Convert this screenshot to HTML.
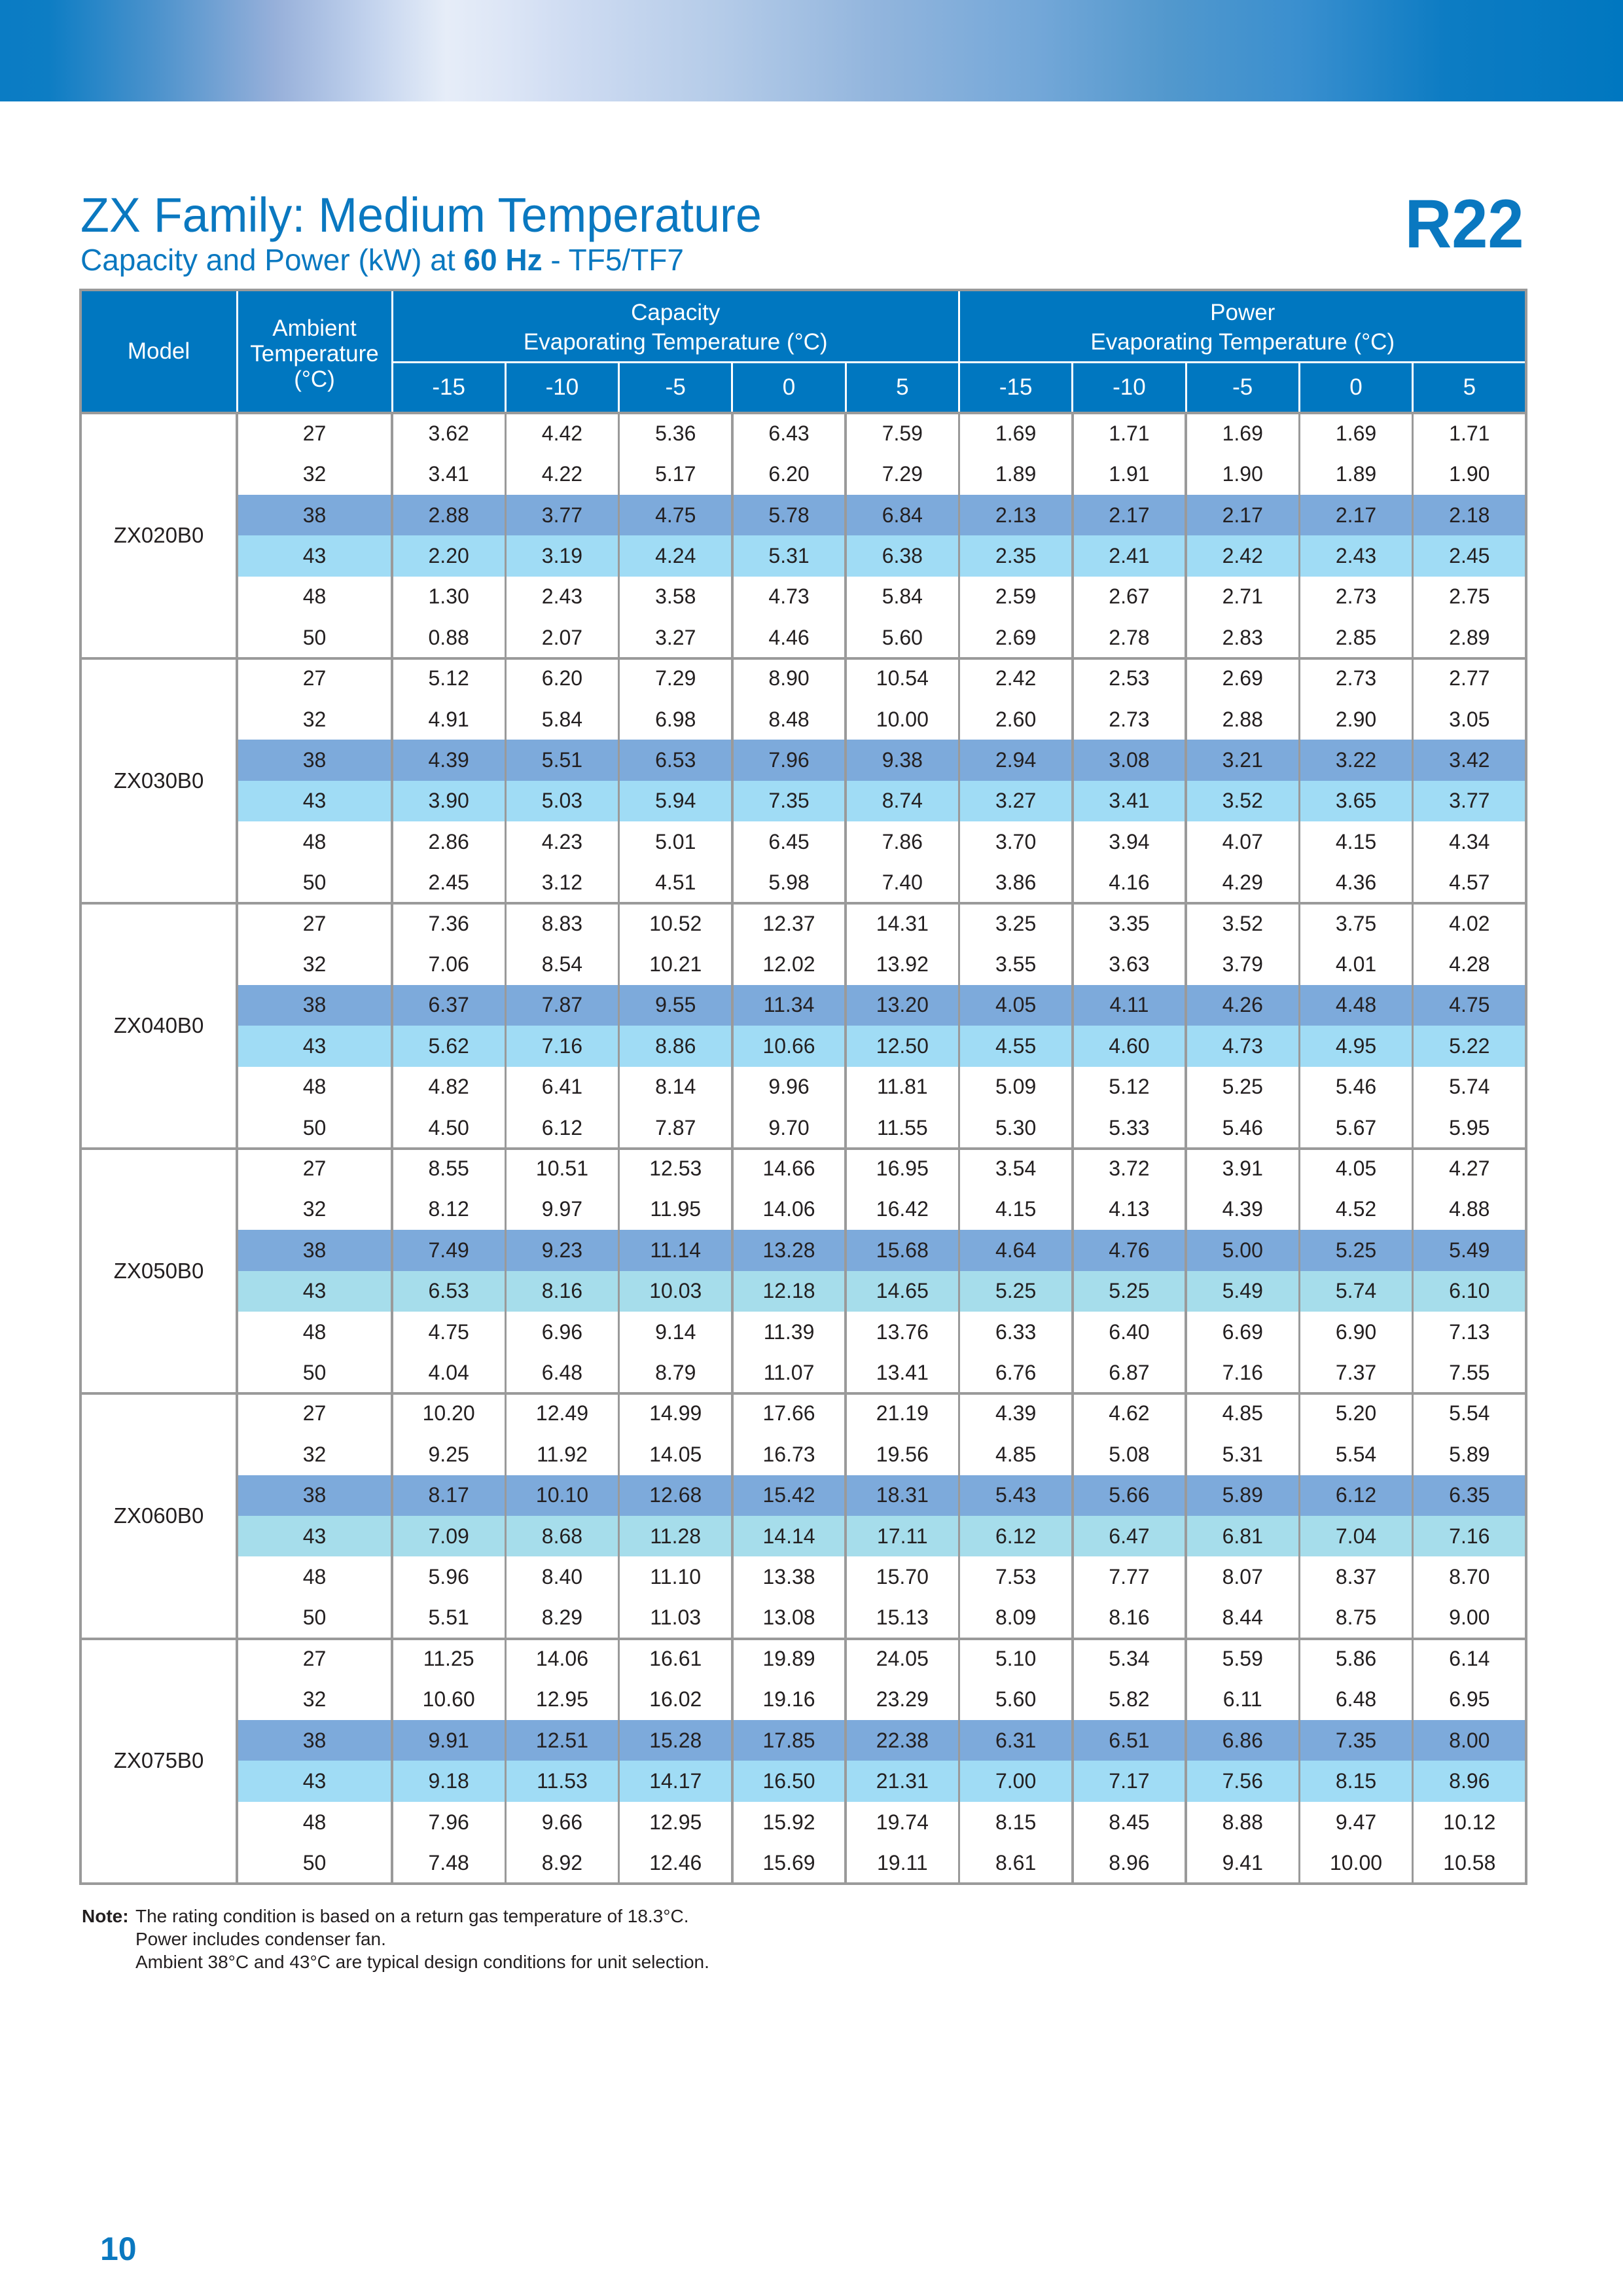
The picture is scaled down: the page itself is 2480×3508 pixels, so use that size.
<!DOCTYPE html>
<html><head><meta charset="utf-8">
<style>
*{margin:0;padding:0;box-sizing:border-box}
html,body{width:2480px;height:3508px;background:#fff;overflow:hidden}
body{position:relative;font-family:"Liberation Sans",sans-serif;color:#231f20}
.banner{position:absolute;left:0;top:0;width:2480px;height:155px;
background:linear-gradient(90deg,#0a7cc4 0%,#0d7dc4 3%,#4b92cc 9.5%,#97b0da 17%,#c4d4ee 23%,#e6edf8 27.5%,#dde6f6 31%,#cfdcf2 35%,#b4cbe8 44.5%,#92b5dd 54%,#73a7d8 64%,#5298cd 72%,#3a8fcf 80%,#0d7cc3 89%,#0077c0 100%)}
.title{position:absolute;left:123px;top:292px;font-size:74px;line-height:74px;color:#0a78c0;white-space:nowrap;transform:scaleX(0.971);transform-origin:0 0}
.sub{position:absolute;left:123px;top:374px;font-size:46px;line-height:46px;color:#0a78c0;white-space:nowrap}
.sub b{font-weight:bold}
.r22{position:absolute;right:151px;top:290px;font-size:105px;line-height:105px;font-weight:bold;color:#0a78c0;white-space:nowrap;transform:scaleX(0.945);transform-origin:100% 0}
.g{position:absolute;left:123px;top:443px;width:2209px;display:grid;
grid-template-columns:239px 237px repeat(10,173.3px);
grid-template-rows:110px 78px repeat(36,62.42px)}
.g>div,.g>.r>div{display:flex;align-items:center;justify-content:center;text-align:center;white-space:nowrap}
.g>.r{display:contents}
.hd{background:#0077c0;color:#fff;font-size:35px}
.hm{grid-row:span 2}
.hc{grid-column:span 5;flex-direction:column;line-height:45px;padding-top:4px}
.ha{grid-row:span 2;flex-direction:column;line-height:39px;padding-top:6px}
.m{grid-row:span 6;font-size:33px;background:#fff}
.r>div{font-size:32px}
.r.x>div{background:#7daadb}
.r.y>div{background:#a0dcf5}
.r.z>div{background:#a6ddeb}
.ln{position:absolute}
.gv{background:#9a9a9a;width:3.5px}
.wv{background:#fff;width:3px}
.gh{background:#9a9a9a;height:4px}
.note{position:absolute;top:2910px;font-size:28px;line-height:35px;color:#231f20;white-space:nowrap}
.pg{position:absolute;left:153px;top:3411px;font-size:50px;line-height:50px;font-weight:bold;color:#0a78c0}
</style></head><body>
<div class="banner"></div>
<div class="title">ZX Family: Medium Temperature</div>
<div class="sub">Capacity and Power (kW) at <b>60 Hz</b> - TF5/TF7</div>
<div class="r22">R22</div>

<div class="g">
<div class="hd hm">Model</div>
<div class="hd ha"><span>Ambient</span><span>Temperature</span><span>(°C)</span></div>
<div class="hd hc"><span>Capacity</span><span>Evaporating Temperature (°C)</span></div>
<div class="hd hc"><span>Power</span><span>Evaporating Temperature (°C)</span></div>
<div class="hd">-15</div><div class="hd">-10</div><div class="hd">-5</div><div class="hd">0</div><div class="hd">5</div>
<div class="hd">-15</div><div class="hd">-10</div><div class="hd">-5</div><div class="hd">0</div><div class="hd">5</div>

<div class="m">ZX020B0</div>
<div class="r"><div>27</div><div>3.62</div><div>4.42</div><div>5.36</div><div>6.43</div><div>7.59</div><div>1.69</div><div>1.71</div><div>1.69</div><div>1.69</div><div>1.71</div></div>
<div class="r"><div>32</div><div>3.41</div><div>4.22</div><div>5.17</div><div>6.20</div><div>7.29</div><div>1.89</div><div>1.91</div><div>1.90</div><div>1.89</div><div>1.90</div></div>
<div class="r x"><div>38</div><div>2.88</div><div>3.77</div><div>4.75</div><div>5.78</div><div>6.84</div><div>2.13</div><div>2.17</div><div>2.17</div><div>2.17</div><div>2.18</div></div>
<div class="r y"><div>43</div><div>2.20</div><div>3.19</div><div>4.24</div><div>5.31</div><div>6.38</div><div>2.35</div><div>2.41</div><div>2.42</div><div>2.43</div><div>2.45</div></div>
<div class="r"><div>48</div><div>1.30</div><div>2.43</div><div>3.58</div><div>4.73</div><div>5.84</div><div>2.59</div><div>2.67</div><div>2.71</div><div>2.73</div><div>2.75</div></div>
<div class="r"><div>50</div><div>0.88</div><div>2.07</div><div>3.27</div><div>4.46</div><div>5.60</div><div>2.69</div><div>2.78</div><div>2.83</div><div>2.85</div><div>2.89</div></div>

<div class="m">ZX030B0</div>
<div class="r"><div>27</div><div>5.12</div><div>6.20</div><div>7.29</div><div>8.90</div><div>10.54</div><div>2.42</div><div>2.53</div><div>2.69</div><div>2.73</div><div>2.77</div></div>
<div class="r"><div>32</div><div>4.91</div><div>5.84</div><div>6.98</div><div>8.48</div><div>10.00</div><div>2.60</div><div>2.73</div><div>2.88</div><div>2.90</div><div>3.05</div></div>
<div class="r x"><div>38</div><div>4.39</div><div>5.51</div><div>6.53</div><div>7.96</div><div>9.38</div><div>2.94</div><div>3.08</div><div>3.21</div><div>3.22</div><div>3.42</div></div>
<div class="r y"><div>43</div><div>3.90</div><div>5.03</div><div>5.94</div><div>7.35</div><div>8.74</div><div>3.27</div><div>3.41</div><div>3.52</div><div>3.65</div><div>3.77</div></div>
<div class="r"><div>48</div><div>2.86</div><div>4.23</div><div>5.01</div><div>6.45</div><div>7.86</div><div>3.70</div><div>3.94</div><div>4.07</div><div>4.15</div><div>4.34</div></div>
<div class="r"><div>50</div><div>2.45</div><div>3.12</div><div>4.51</div><div>5.98</div><div>7.40</div><div>3.86</div><div>4.16</div><div>4.29</div><div>4.36</div><div>4.57</div></div>

<div class="m">ZX040B0</div>
<div class="r"><div>27</div><div>7.36</div><div>8.83</div><div>10.52</div><div>12.37</div><div>14.31</div><div>3.25</div><div>3.35</div><div>3.52</div><div>3.75</div><div>4.02</div></div>
<div class="r"><div>32</div><div>7.06</div><div>8.54</div><div>10.21</div><div>12.02</div><div>13.92</div><div>3.55</div><div>3.63</div><div>3.79</div><div>4.01</div><div>4.28</div></div>
<div class="r x"><div>38</div><div>6.37</div><div>7.87</div><div>9.55</div><div>11.34</div><div>13.20</div><div>4.05</div><div>4.11</div><div>4.26</div><div>4.48</div><div>4.75</div></div>
<div class="r y"><div>43</div><div>5.62</div><div>7.16</div><div>8.86</div><div>10.66</div><div>12.50</div><div>4.55</div><div>4.60</div><div>4.73</div><div>4.95</div><div>5.22</div></div>
<div class="r"><div>48</div><div>4.82</div><div>6.41</div><div>8.14</div><div>9.96</div><div>11.81</div><div>5.09</div><div>5.12</div><div>5.25</div><div>5.46</div><div>5.74</div></div>
<div class="r"><div>50</div><div>4.50</div><div>6.12</div><div>7.87</div><div>9.70</div><div>11.55</div><div>5.30</div><div>5.33</div><div>5.46</div><div>5.67</div><div>5.95</div></div>

<div class="m">ZX050B0</div>
<div class="r"><div>27</div><div>8.55</div><div>10.51</div><div>12.53</div><div>14.66</div><div>16.95</div><div>3.54</div><div>3.72</div><div>3.91</div><div>4.05</div><div>4.27</div></div>
<div class="r"><div>32</div><div>8.12</div><div>9.97</div><div>11.95</div><div>14.06</div><div>16.42</div><div>4.15</div><div>4.13</div><div>4.39</div><div>4.52</div><div>4.88</div></div>
<div class="r x"><div>38</div><div>7.49</div><div>9.23</div><div>11.14</div><div>13.28</div><div>15.68</div><div>4.64</div><div>4.76</div><div>5.00</div><div>5.25</div><div>5.49</div></div>
<div class="r z"><div>43</div><div>6.53</div><div>8.16</div><div>10.03</div><div>12.18</div><div>14.65</div><div>5.25</div><div>5.25</div><div>5.49</div><div>5.74</div><div>6.10</div></div>
<div class="r"><div>48</div><div>4.75</div><div>6.96</div><div>9.14</div><div>11.39</div><div>13.76</div><div>6.33</div><div>6.40</div><div>6.69</div><div>6.90</div><div>7.13</div></div>
<div class="r"><div>50</div><div>4.04</div><div>6.48</div><div>8.79</div><div>11.07</div><div>13.41</div><div>6.76</div><div>6.87</div><div>7.16</div><div>7.37</div><div>7.55</div></div>

<div class="m">ZX060B0</div>
<div class="r"><div>27</div><div>10.20</div><div>12.49</div><div>14.99</div><div>17.66</div><div>21.19</div><div>4.39</div><div>4.62</div><div>4.85</div><div>5.20</div><div>5.54</div></div>
<div class="r"><div>32</div><div>9.25</div><div>11.92</div><div>14.05</div><div>16.73</div><div>19.56</div><div>4.85</div><div>5.08</div><div>5.31</div><div>5.54</div><div>5.89</div></div>
<div class="r x"><div>38</div><div>8.17</div><div>10.10</div><div>12.68</div><div>15.42</div><div>18.31</div><div>5.43</div><div>5.66</div><div>5.89</div><div>6.12</div><div>6.35</div></div>
<div class="r z"><div>43</div><div>7.09</div><div>8.68</div><div>11.28</div><div>14.14</div><div>17.11</div><div>6.12</div><div>6.47</div><div>6.81</div><div>7.04</div><div>7.16</div></div>
<div class="r"><div>48</div><div>5.96</div><div>8.40</div><div>11.10</div><div>13.38</div><div>15.70</div><div>7.53</div><div>7.77</div><div>8.07</div><div>8.37</div><div>8.70</div></div>
<div class="r"><div>50</div><div>5.51</div><div>8.29</div><div>11.03</div><div>13.08</div><div>15.13</div><div>8.09</div><div>8.16</div><div>8.44</div><div>8.75</div><div>9.00</div></div>

<div class="m">ZX075B0</div>
<div class="r"><div>27</div><div>11.25</div><div>14.06</div><div>16.61</div><div>19.89</div><div>24.05</div><div>5.10</div><div>5.34</div><div>5.59</div><div>5.86</div><div>6.14</div></div>
<div class="r"><div>32</div><div>10.60</div><div>12.95</div><div>16.02</div><div>19.16</div><div>23.29</div><div>5.60</div><div>5.82</div><div>6.11</div><div>6.48</div><div>6.95</div></div>
<div class="r x"><div>38</div><div>9.91</div><div>12.51</div><div>15.28</div><div>17.85</div><div>22.38</div><div>6.31</div><div>6.51</div><div>6.86</div><div>7.35</div><div>8.00</div></div>
<div class="r y"><div>43</div><div>9.18</div><div>11.53</div><div>14.17</div><div>16.50</div><div>21.31</div><div>7.00</div><div>7.17</div><div>7.56</div><div>8.15</div><div>8.96</div></div>
<div class="r"><div>48</div><div>7.96</div><div>9.66</div><div>12.95</div><div>15.92</div><div>19.74</div><div>8.15</div><div>8.45</div><div>8.88</div><div>9.47</div><div>10.12</div></div>
<div class="r"><div>50</div><div>7.48</div><div>8.92</div><div>12.46</div><div>15.69</div><div>19.11</div><div>8.61</div><div>8.96</div><div>9.41</div><div>10.00</div><div>10.58</div></div>
</div>

<!-- header white lines -->
<div class="ln wv" style="left:360.5px;top:443px;height:188px"></div>
<div class="ln wv" style="left:597.5px;top:443px;height:188px"></div>
<div class="ln wv" style="left:1464px;top:443px;height:188px"></div>
<div class="ln" style="background:#fff;left:599px;top:551.5px;width:1733px;height:3px"></div>
<div class="ln wv" style="left:770.8px;top:553px;height:78px"></div>
<div class="ln wv" style="left:944.1px;top:553px;height:78px"></div>
<div class="ln wv" style="left:1117.4px;top:553px;height:78px"></div>
<div class="ln wv" style="left:1290.7px;top:553px;height:78px"></div>
<div class="ln wv" style="left:1637.3px;top:553px;height:78px"></div>
<div class="ln wv" style="left:1810.6px;top:553px;height:78px"></div>
<div class="ln wv" style="left:1983.9px;top:553px;height:78px"></div>
<div class="ln wv" style="left:2157.2px;top:553px;height:78px"></div>

<!-- body vertical gray lines -->
<div class="ln gv" style="left:360.25px;top:631px;height:2247px"></div>
<div class="ln gv" style="left:597.25px;top:631px;height:2247px"></div>
<div class="ln gv" style="left:770.55px;top:631px;height:2247px"></div>
<div class="ln gv" style="left:943.85px;top:631px;height:2247px"></div>
<div class="ln gv" style="left:1117.15px;top:631px;height:2247px"></div>
<div class="ln gv" style="left:1290.45px;top:631px;height:2247px"></div>
<div class="ln gv" style="left:1463.75px;top:631px;height:2247px"></div>
<div class="ln gv" style="left:1637.05px;top:631px;height:2247px"></div>
<div class="ln gv" style="left:1810.35px;top:631px;height:2247px"></div>
<div class="ln gv" style="left:1983.65px;top:631px;height:2247px"></div>
<div class="ln gv" style="left:2156.95px;top:631px;height:2247px"></div>

<!-- horizontal gray lines -->
<div class="ln gh" style="left:123px;top:629px;width:2209px"></div>
<div class="ln gh" style="left:123px;top:1003.5px;width:2209px"></div>
<div class="ln gh" style="left:123px;top:1378px;width:2209px"></div>
<div class="ln gh" style="left:123px;top:1752.5px;width:2209px"></div>
<div class="ln gh" style="left:123px;top:2127px;width:2209px"></div>
<div class="ln gh" style="left:123px;top:2501.5px;width:2209px"></div>

<!-- outer border -->
<div class="ln" style="left:121px;top:441px;width:2213px;height:2439px;border:4px solid #9a9a9a"></div>

<div class="note" style="left:125px"><b>Note:</b></div>
<div class="note" style="left:207px">The rating condition is based on a return gas temperature of 18.3°C.<br>Power includes condenser fan.<br>Ambient 38°C and 43°C are typical design conditions for unit selection.</div>

<div class="pg">10</div>
</body></html>
